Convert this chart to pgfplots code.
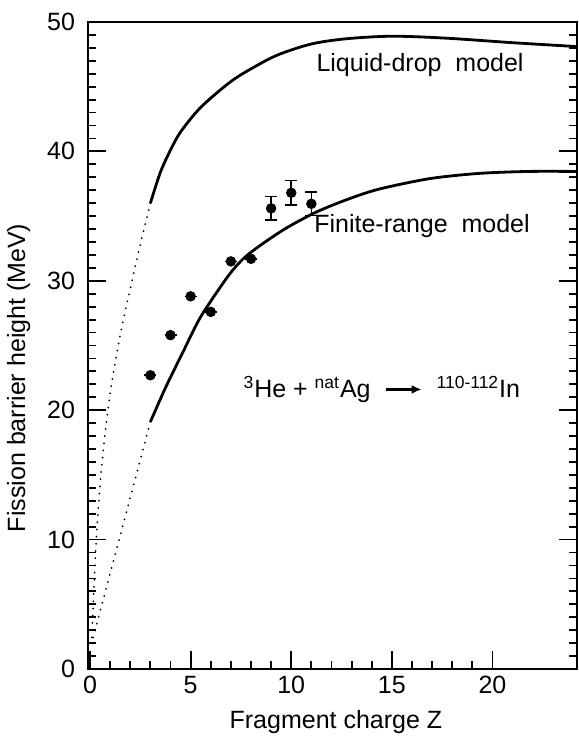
\documentclass[border=0pt]{standalone}
\usepackage{fontspec}
\setmainfont{Liberation Sans}
\usepackage{pgfplots}
\pgfplotsset{compat=1.18}
\usetikzlibrary{arrows.meta}

% experimental barrier heights
\pgfplotstableread{
Z   B     e
3   22.7  0
4   25.8  0
5   28.8  0
6   27.6  0
7   31.5  0
8   31.7  0
9   35.6  0.9
10  36.8  0.95
11  35.95 0.9
}\datatab

\begin{document}
\begin{tikzpicture}
\begin{axis}[
    scale only axis,
    width=244.5pt, height=323.5pt,
    xmin=-0.1, xmax=24.2,
    ymin=0, ymax=50,
    axis line style={line width=1pt},
    xtick={0,5,10,15,20},
    ytick={0,10,20,30,40,50},
    minor x tick num=4,
    minor y tick num=9,
    xtick pos=bottom,
    ytick pos=both,
    tick align=inside,
    major tick length=9pt,
    minor tick length=4pt,
    every tick/.style={black, line width=0.9pt},
    /pgf/number format/assume math mode=true,
    tick label style={font=\fontsize{12.5}{14}\selectfont},
    yticklabel style={xshift=-3pt},
    xlabel={Fragment charge Z},
    ylabel={Fission barrier height (MeV)},
    label style={font=\fontsize{12.5}{14}\selectfont},
    xlabel style={at={(axis description cs:0.507,0)}, anchor=center, yshift=-26.5pt},
    ylabel style={at={(axis description cs:-0.142,0.45)}, anchor=center},
    clip=false,
]
% liquid-drop model
\addplot[black, line width=1.4pt, smooth] coordinates {
    (3,36) (3.5,38.4) (4,40.1) (4.5,41.5) (5.5,43.4) (7,45.4) (8.25,46.6)
    (9.4,47.5) (11,48.3) (12.7,48.7) (15,48.9) (17.7,48.75) (21,48.4) (24.2,48.1)
};
\addplot[black, line width=1pt, line cap=round, dash pattern=on 0pt off 3.6pt, smooth] coordinates {
    (3,36) (2.5,32.8) (2,29.4) (1.5,25.8) (1,21.3) (0.6,16) (0.35,11) (0.2,6.5) (0.08,2)
};
% finite-range model
\addplot[black, line width=1.4pt, smooth] coordinates {
    (3,19.1) (3.77,21.8) (4.59,24.4) (5.42,27.0) (6.25,29.0) (7.08,30.8) (7.91,32.1)
    (9.57,33.9) (11.23,35.3) (12.9,36.35) (14.4,37.1) (16.9,37.9) (19.35,38.3) (21.8,38.45) (24.2,38.45)
};
\addplot[black, line width=1pt, line cap=round, dash pattern=on 0pt off 3.6pt] coordinates {
    (3,19.1) (0.08,2)
};
% data
\addplot[only marks, mark=*, mark size=2.4pt, black,
    error bars/.cd, y dir=both, y explicit,
    error bar style={line width=0.8pt}, error mark options={rotate=90, mark size=3pt, line width=0.8pt}]
    table[x=Z, y=B, y error=e] {\datatab};

\node[font=\fontsize{12.5}{14}\selectfont] at (axis cs:16.4,46.7) {Liquid-drop\ \ model};
\node[font=\fontsize{12.5}{14}\selectfont] at (axis cs:16.5,34.2) {Finite-range\ \ model};
\node[font=\fontsize{12.5}{14}\selectfont] at (axis cs:14.5,21.6)
    {\textsuperscript{3}He + \textsuperscript{nat}Ag\ \ \tikz[baseline=-0.6ex]\draw[-{Latex[length=5pt,width=4.5pt]}, line width=1.1pt] (0,0)--(18pt,0);\ \ \textsuperscript{110-112}In};
\end{axis}
\pgfresetboundingbox
\path ([xshift=-44pt,yshift=-35.5pt]current axis.south west) rectangle ([xshift=0.5pt,yshift=11pt]current axis.north east);
\end{tikzpicture}
\end{document}
